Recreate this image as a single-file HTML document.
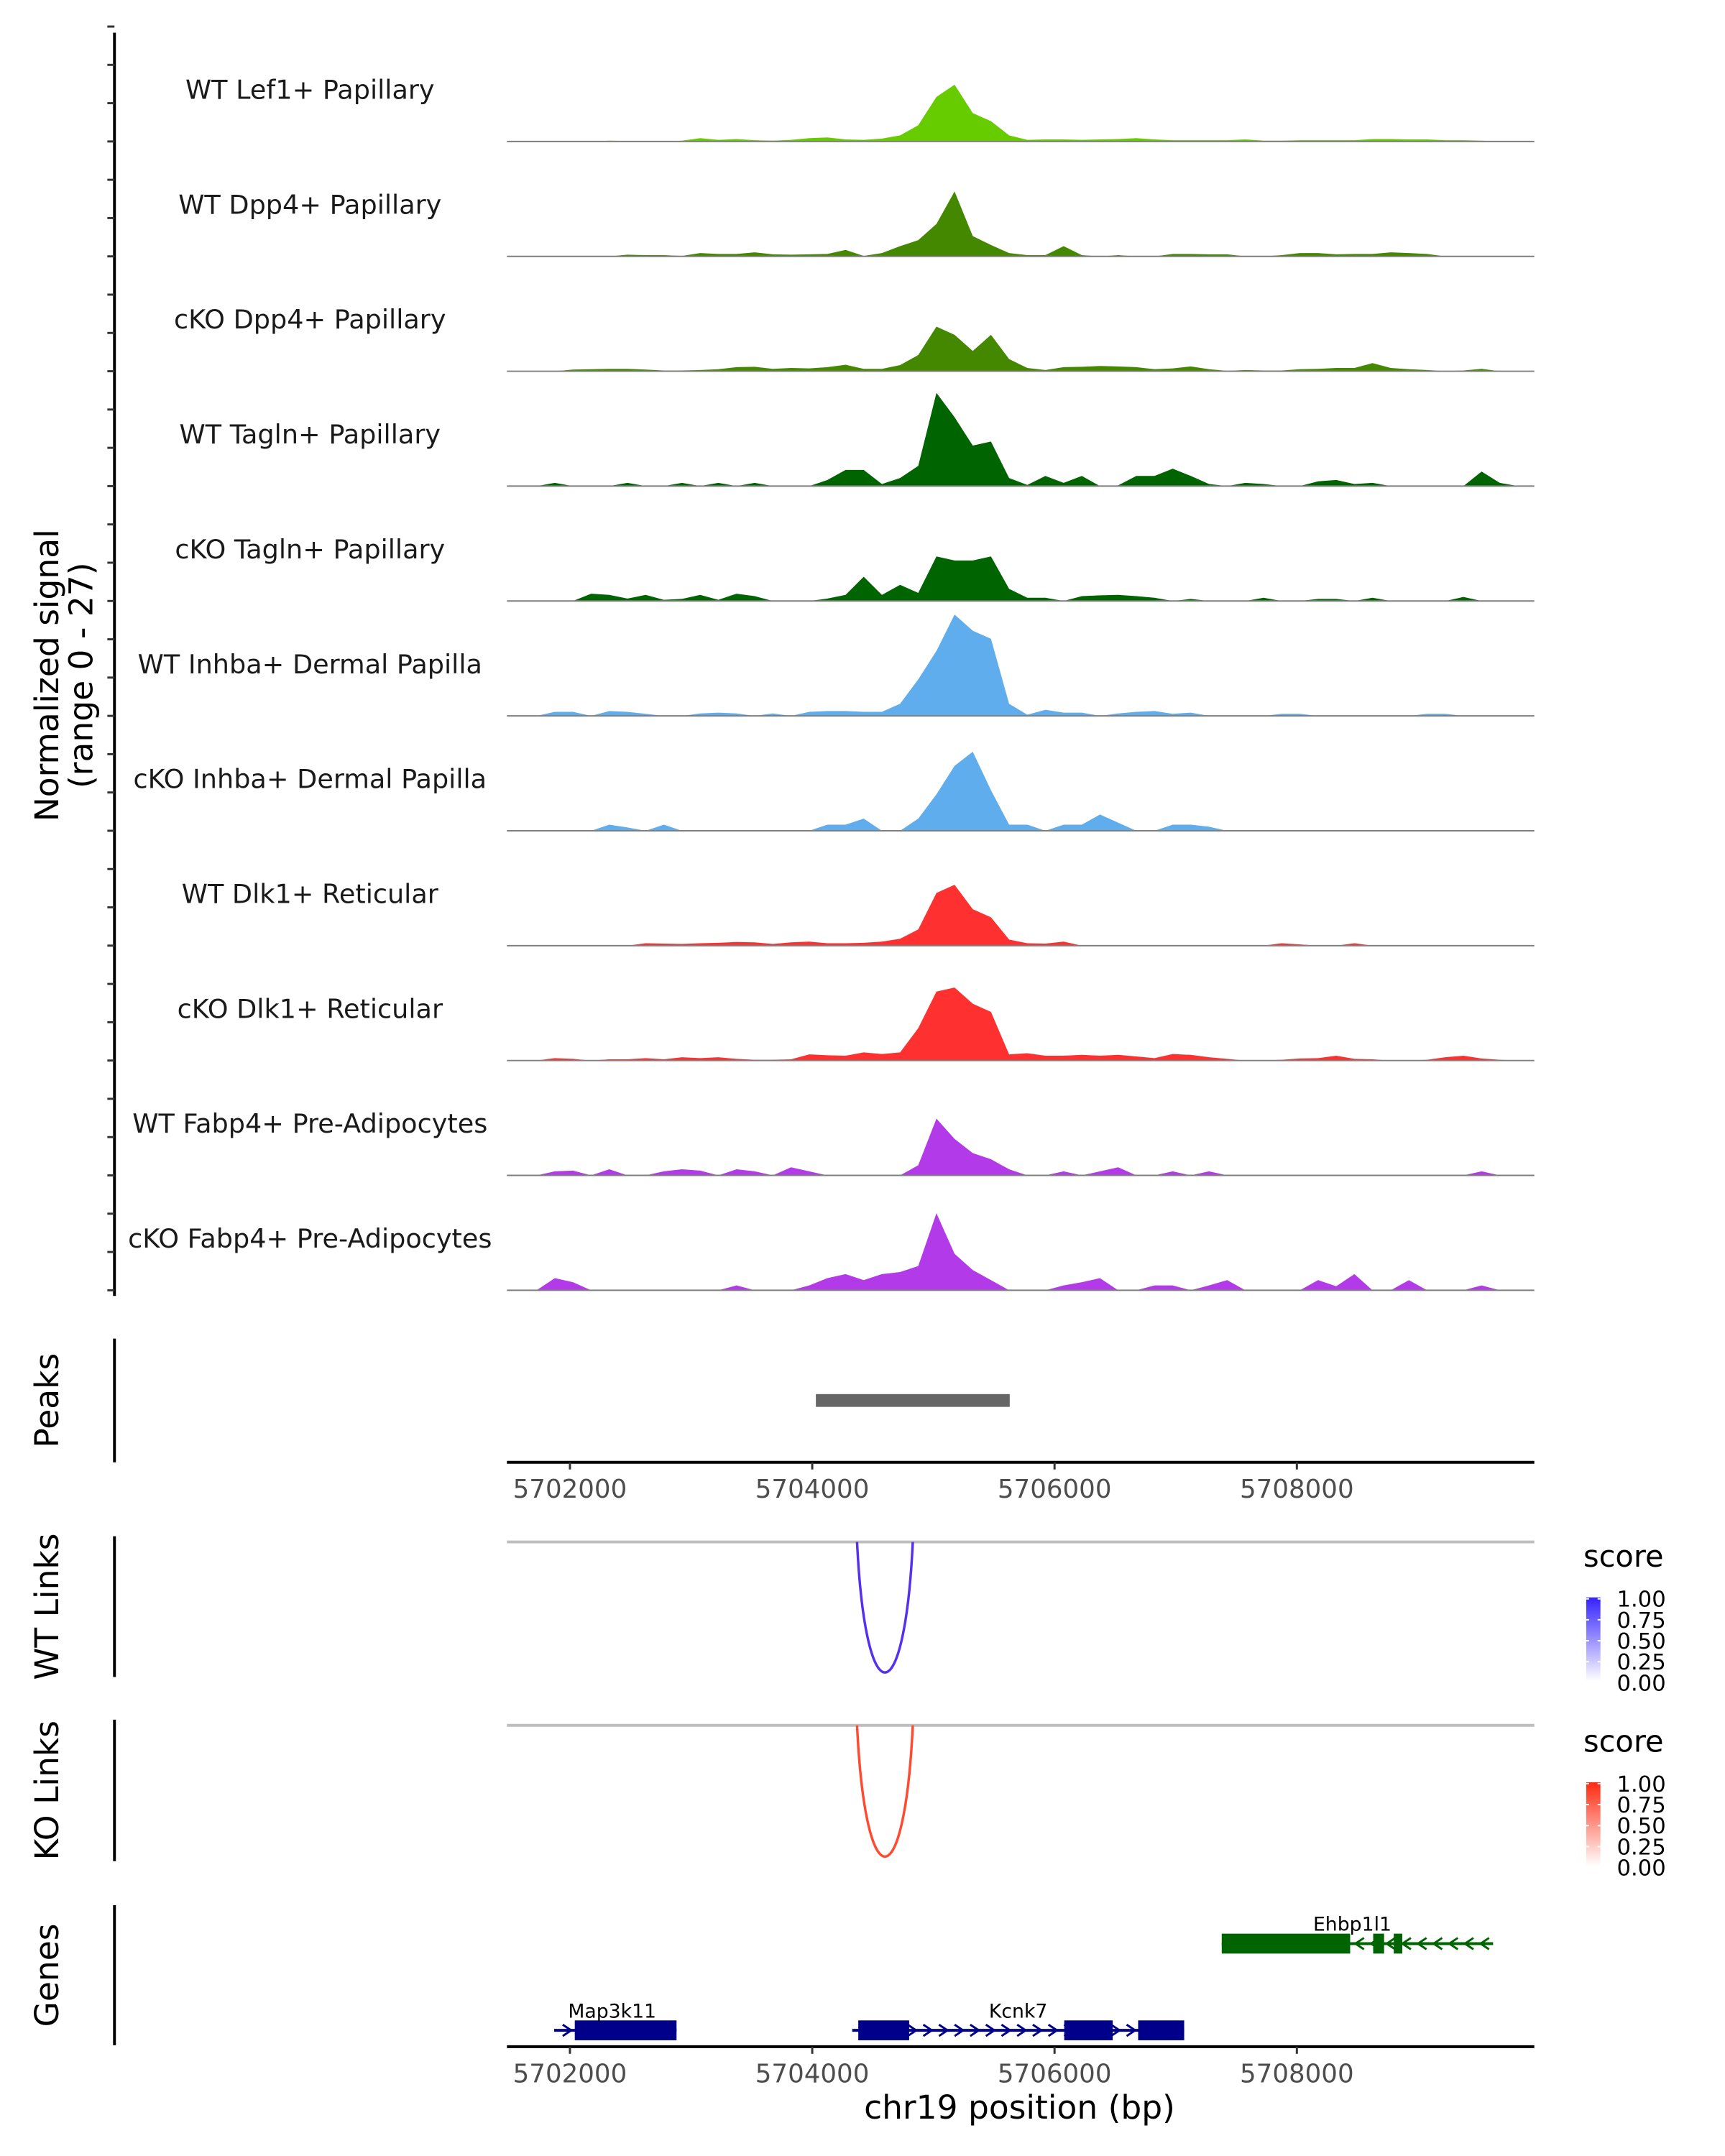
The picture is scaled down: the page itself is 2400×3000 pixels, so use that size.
<!DOCTYPE html>
<html><head><meta charset="utf-8">
<style>
html,body{margin:0;padding:0;background:#fff;}
svg{display:block;font-family:"DejaVu Sans","Liberation Sans",sans-serif;}
</style></head>
<body>
<svg id="chart" width="2400" height="3000" viewBox="0 0 2400 3000" xmlns="http://www.w3.org/2000/svg">
<g transform="scale(0.9892)">
<g id="tracks"></g>
<g id="axes"></g>
</g>
</svg>
<script>
// ---- data ----
const trackNames = ["WT Lef1+ Papillary","WT Dpp4+ Papillary","cKO Dpp4+ Papillary","WT Tagln+ Papillary","cKO Tagln+ Papillary","WT Inhba+ Dermal Papilla","cKO Inhba+ Dermal Papilla","WT Dlk1+ Reticular","cKO Dlk1+ Reticular","WT Fabp4+ Pre-Adipocytes","cKO Fabp4+ Pre-Adipocytes"];
const trackColors = ["#66cc00","#448800","#448800","#006400","#006400","#5fadec","#5fadec","#ff3030","#ff3030","#b23ae8","#b23ae8"];
const binStart = 5701500;
const binSize = 150;
const sigLef1WT = [0,0,0.1,0,0,0.2,0.1,0,0,0.2, 0.8,0.4,0.6,0.3,0.2,0.4,0.8,1.0,0.5,0.4, 0.7,1.5,4,11,14,7,5,1.5,0.4,0.5, 0.5,0.4,0.5,0.6,0.8,0.5,0.3,0.3,0.3,0.3, 0.5,0.2,0.2,0.3,0.3,0.3,0.3,0.6,0.6,0.5, 0.5,0.3,0.3,0.2,0,0];
const sigDpp4WT = [0,0,0,0,0,0,0.4,0.3,0.3,0.1, 0.8,0.6,0.6,1.0,0.5,0.4,0.5,0.6,1.6,0.1, 0.8,2.5,4,8,16,5,2.8,0.8,0.3,0.3, 2.5,0.3,0,0.3,0,0,0.6,0.6,0.5,0.5, 0,0,0.3,0.8,0.8,0.5,0.6,0.6,1.0,0.8, 0.6,0,0,0,0,0];
const sigDpp4KO = [0,0,0,0.4,0.5,0.6,0.6,0.4,0.2,0.2, 0.3,0.5,1.0,1.1,0.6,0.8,0.7,1.0,1.6,0.6, 0.6,1.5,4,11,9,5,9,3,0.8,0.3, 1.0,1.1,1.3,1.2,1.0,0.5,0.7,1.2,0.5,0.1, 0.3,0.2,0.2,0.5,0.6,0.8,0.8,2,0.8,0.5, 0.3,0,0.2,0.6,0,0];
const sigTaglnWT = [0,0,0.8,0,0,0,0.8,0,0,0.8, 0,0.8,0,0.8,0,0,0,1.5,4,4, 0.5,2,5,23,17,10,11,2,0.3,2.5, 0.8,2.5,0,0.2,2.5,2.5,4.3,2.5,0.5,0, 0.8,0.5,0,0,1.2,1.5,0.5,0.8,0,0, 0,0,0,3.6,0.8,0];
const sigTaglnKO = [0,0,0,0,1.8,1.5,0.6,1.5,0.3,0.5, 1.5,0.3,1.8,1.2,0,0,0,0.6,1.5,6, 1.5,4,2,11,10,10,11,3,0.8,0.8, 0,1.2,1.4,1.5,1.2,0.8,0,0.5,0,0, 0,0.8,0,0,0.5,0.5,0,0.8,0,0, 0,0,1,0,0,0];
const sigInhbaWT = [0,0,1.0,1.0,0,1.2,1.0,0.5,0,0, 0.6,0.8,0.6,0,0.6,0,1.0,1.2,1.2,1.0, 1.0,3,9,16,25,21,19,3,0.3,1.5, 0.8,0.8,0,0.6,1.0,1.2,0.5,0.8,0,0, 0,0,0.5,0.5,0,0,0,0,0,0, 0.5,0.5,0,0,0,0];
const sigInhbaKO = [0,0,0,0,0,1.5,0.8,0,1.5,0, 0,0,0,0,0,0,0,1.5,1.5,3, 0,0,3,9,16,19.5,10,1.5,1.5,0, 1.5,1.5,4,2,0,0,1.5,1.5,1.0,0, 0,0,0,0,0,0,0,0,0,0, 0,0,0,0,0,0];
const sigDlk1WT = [0,0,0,0,0,0,0,0.6,0.5,0.4, 0.6,0.7,0.9,0.8,0.4,0.8,1.0,0.6,0.6,0.7, 1.0,1.7,4,13,15,9,7,1.5,0.6,0.5, 1.0,0,0,0,0,0,0,0,0,0, 0,0,0.6,0.3,0,0,0.6,0,0,0, 0,0,0,0,0,0];
const sigDlk1KO = [0,0,0.6,0.4,0,0.3,0.3,0.6,0.3,0.8, 0.6,0.8,0.4,0.2,0.2,0.3,1.5,1.3,1.2,2, 1.6,2,8,17,18,14,12,1.5,1.8,1.2, 1.2,1.4,1.2,1.4,1.0,0.6,1.6,1.4,0.8,0.4, 0,0,0.2,0.5,0.6,1.2,0.4,0.3,0,0, 0.2,0.8,1.2,0.5,0.2,0];
const sigFabp4WT = [0,0,1,1.2,0,1.5,0,0,1,1.5, 1.2,0,1.5,1,0,2,1,0,0,0, 0,0,2.5,14,9,5.5,4,1.5,0,0, 1,0,1,2,0,0,1,0,1,0, 0,0,0,0,0,0,0,0,0,0, 0,0,0,1,0,0];
const sigFabp4KO = [0,0,3,2,0,0,0,0,0,0, 0,0,1.2,0,0,0,1.2,3,4,2.5, 4,4.5,6,19,9,5,2.5,0,0,0, 1.2,2,3,0,0,1.2,1.2,0,1.2,2.5, 0,0,0,0,2.5,1,4,0,0,2.5, 0,0,0,1.2,0,0];
const signals = [sigLef1WT,sigDpp4WT,sigDpp4KO,sigTaglnWT,sigTaglnKO,sigInhbaWT,sigInhbaKO,sigDlk1WT,sigDlk1KO,sigFabp4WT,sigFabp4KO];
const yMaxSignal = 27;
const xTicks = [5702000,5704000,5706000,5708000];
const peakStarts = [5704030];
const peakEnds = [5705630];
const wtLinkStart = [5704370];
const wtLinkEnd = [5704830];
const wtLinkScore = [1.0];
const koLinkStart = [5704370];
const koLinkEnd = [5704830];
const koLinkScore = [1.0];
const legendTicks = ["1.00","0.75","0.50","0.25","0.00"];
const geneNames = ["Ehbp1l1","Map3k11","Kcnk7"];
const geneStarts = [5707380,5701870,5704330];
const geneEnds = [5709620,5702880,5707070];
const geneStrand = [-1,1,1];
const geneRow = [0,1,1];
const exonGene = [0,0,0,1,2,2,2];
const exonStarts = [5707380,5708630,5708800,5702040,5704380,5706080,5706690];
const exonEnds = [5708440,5708720,5708870,5702880,5704800,5706480,5707070];

// ---- scales ----
const X0 = 713, X1 = 2158, BP0 = 5701480, BP1 = 5709960;
const xs = bp => X0 + (bp - BP0) / (BP1 - BP0) * (X1 - X0);
const base0 = 199, trackStep = 161.6, trackPx = 154;
const ys = (v, base) => base - v / yMaxSignal * trackPx;
const NS = "http://www.w3.org/2000/svg";
function mk(parent, tag, attrs, text) {
  const e = document.createElementNS(NS, tag);
  for (const k in attrs) e.setAttribute(k, attrs[k]);
  if (text !== undefined) e.textContent = text;
  parent.appendChild(e);
  return e;
}
const tracksG = document.getElementById('tracks');
const axesG = document.getElementById('axes');

// ---- coverage tracks ----
signals.forEach((sig, t) => {
  const base = base0 + t * trackStep;
  const g = mk(tracksG, 'g', {});
  
  
  let d = 'M' + xs(binStart).toFixed(1) + ' ' + base;
  sig.forEach((v, i) => {
    const c = xs(binStart + (i + 0.5) * binSize);
    d += ' L' + c.toFixed(1) + ' ' + ys(v, base).toFixed(1);
  });
  d += ' L' + xs(binStart + sig.length * binSize).toFixed(1) + ' ' + base + ' Z';
  const p = mk(g, 'path', {d: d, fill: trackColors[t], stroke: 'none'});
  
  
  const ln = mk(g, 'line', {x1: X0, x2: X1, y1: base, y2: base, stroke: '#7f7f7f', 'stroke-width': 2});
  
  
  const lab = mk(g, 'text', {x: 436, y: base - 60, 'font-size': 37, 'text-anchor': 'middle', fill: '#1a1a1a'}, trackNames[t]);
  
  
});

// left axis with ticks
const la = mk(axesG, 'line', {x1: 161, x2: 161, y1: 46, y2: 1823, stroke: '#000', 'stroke-width': 4});


for (let k = -3; k <= 30; k++) {
  const y = base0 + k * trackStep / 3;
  const tk = mk(axesG, 'line', {x1: 151, x2: 161, y1: y, y2: y, stroke: '#333', 'stroke-width': 3});
  
  
}
const yt = mk(axesG, 'text', {transform: 'translate(82,950) rotate(-90)', 'font-size': 46, 'text-anchor': 'middle', fill: '#000'});


mk(yt, 'tspan', {x: 0, y: 0}, 'Normalized signal');
mk(yt, 'tspan', {x: 0, y: 48}, '(range 0 - 27)');

// panel side axes & titles
function panel(name, label, y1, y2) {
  const l = mk(axesG, 'line', {x1: 161, x2: 161, y1: y1, y2: y2, stroke: '#000', 'stroke-width': 4});
  
  
  const t = mk(axesG, 'text', {transform: 'translate(82,' + ((y1 + y2) / 2) + ') rotate(-90)', 'font-size': 46, 'text-anchor': 'middle', fill: '#000'}, label);
  
  
}
panel('peaks', 'Peaks', 1883, 2057);
panel('wt-links', 'WT Links', 2161, 2359);
panel('ko-links', 'KO Links', 2419, 2618);
panel('genes', 'Genes', 2680, 2877);

// peaks
peakStarts.forEach((s, i) => {
  const r = mk(axesG, 'rect', {x: xs(s), y: 1961, width: xs(peakEnds[i]) - xs(s), height: 18, fill: '#666'});
  
  
});

function xAxis(name, y) {
  const l = mk(axesG, 'line', {x1: X0, x2: X1, y1: y, y2: y, stroke: '#000', 'stroke-width': 4});
  
  
  xTicks.forEach(v => {
    const tk = mk(axesG, 'line', {x1: xs(v), x2: xs(v), y1: y, y2: y + 10, stroke: '#333', 'stroke-width': 3});
    
    
    const tl = mk(axesG, 'text', {x: xs(v), y: y + 50, 'font-size': 36, 'text-anchor': 'middle', fill: '#4d4d4d'}, String(v));
    
    
  });
}
xAxis('peaks', 2057);
xAxis('genes', 2879);

// links
function links(name, starts, ends, scores, base, depth, color) {
  const bl = mk(axesG, 'line', {x1: X0, x2: X1, y1: base, y2: base, stroke: '#bebebe', 'stroke-width': 4});
  
  
  starts.forEach((s, i) => {
    const a = xs(s), b = xs(ends[i]), m = (a + b) / 2;
    const d = 'M' + a + ' ' + base + ' C' + (a + (m - a) * 0.3) + ' ' + (base + depth * 1.33) + ' ' + (b - (b - m) * 0.3) + ' ' + (base + depth * 1.33) + ' ' + b + ' ' + base;
    const p = mk(axesG, 'path', {d: d, fill: 'none', stroke: color, 'stroke-width': 3.5, opacity: scores[i]});
    
    
  });
}
links('wt-links', wtLinkStart, wtLinkEnd, wtLinkScore, 2169, 184, '#5530f0');
links('ko-links', koLinkStart, koLinkEnd, koLinkScore, 2427, 185, '#ff4a30');

// legends
function legend(name, y0, color) {
  const g = mk(axesG, 'g', {});
  
  
  mk(g, 'text', {x: 2227, y: y0, 'font-size': 42, fill: '#000'}, 'score');
  const gid = name + '-grad';
  const defs = mk(g, 'defs', {});
  const lg = mk(defs, 'linearGradient', {id: gid, x1: 0, y1: 1, x2: 0, y2: 0});
  mk(lg, 'stop', {offset: 0, 'stop-color': '#ffffff'});
  mk(lg, 'stop', {offset: 1, 'stop-color': color});
  mk(g, 'rect', {x: 2231, y: y0 + 43, width: 20, height: 118, fill: 'url(#' + gid + ')'});
  legendTicks.forEach((t, i) => {
    const ty = y0 + 45 + i * 29.5;
    mk(g, 'line', {x1: 2231, x2: 2235, y1: ty, y2: ty, stroke: '#fff', 'stroke-width': 2});
    mk(g, 'line', {x1: 2247, x2: 2251, y1: ty, y2: ty, stroke: '#fff', 'stroke-width': 2});
    mk(g, 'text', {x: 2274, y: ty + 11, 'font-size': 31, fill: '#000'}, t);
  });
}
legend('wt-score-legend', 2204, '#3322ff');
legend('ko-score-legend', 2464, '#ff2a10');

// genes
const rowY = [2734, 2856];
geneNames.forEach((n, gi) => {
  const g = mk(axesG, 'g', {});
  
  
  const y = rowY[geneRow[gi]], c = gi === 0 ? '#006400' : '#00008b';
  const a = xs(geneStarts[gi]), b = xs(geneEnds[gi]);
  mk(g, 'line', {x1: a, x2: b, y1: y, y2: y, stroke: c, 'stroke-width': 4});
  for (let x = a + 18; x < b - 8; x += 22) {
    const dx = geneStrand[gi] * 6;
    mk(g, 'polyline', {points: (x - dx) + ',' + (y - 8) + ' ' + (x + dx) + ',' + y + ' ' + (x - dx) + ',' + (y + 8), fill: 'none', stroke: c, 'stroke-width': 3});
  }
  exonGene.forEach((eg, ei) => {
    if (eg !== gi) return;
    mk(g, 'rect', {x: xs(exonStarts[ei]), y: y - 14, width: xs(exonEnds[ei]) - xs(exonStarts[ei]), height: 28, fill: c});
  });
  const lx = gi === 0 ? 1902 : (gi === 1 ? 861 : (a + b) / 2);
  mk(g, 'text', {x: lx, y: y - 18, 'font-size': 27, 'text-anchor': 'middle', fill: '#000'}, n);
});

const xt = mk(axesG, 'text', {x: 1434, y: 2980, 'font-size': 46, 'text-anchor': 'middle', fill: '#000'}, 'chr19 position (bp)');


</script>
</body></html>
